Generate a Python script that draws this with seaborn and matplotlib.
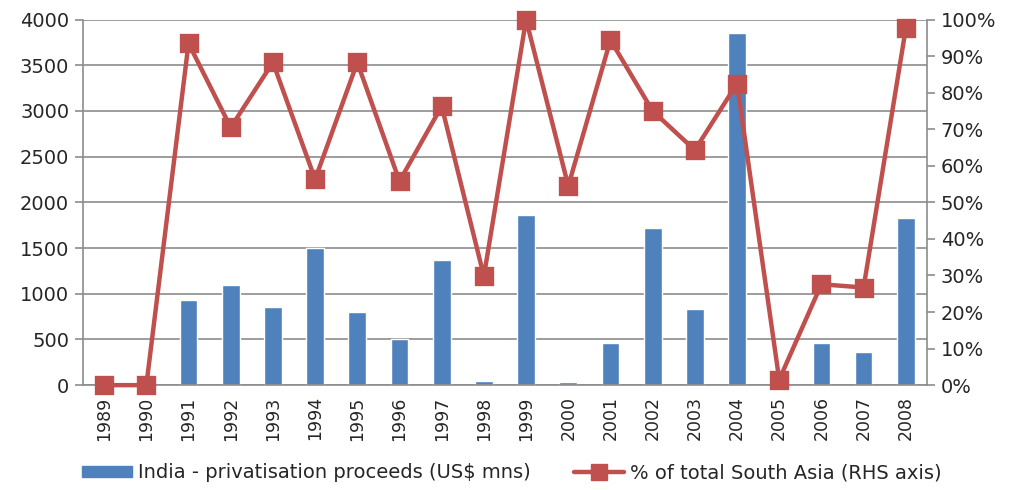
import matplotlib
matplotlib.use("Agg")
import matplotlib.pyplot as plt
import seaborn as sns
import pandas as pd
import numpy as np
from matplotlib.patches import Patch
from matplotlib.lines import Line2D
from matplotlib.ticker import MultipleLocator, FuncFormatter

years = [str(y) for y in range(1989, 2009)]
proceeds = [0, 0, 930, 1095, 857, 1500, 802, 503, 1368, 44, 1860,
            30, 459, 1717, 831, 3851, 0, 459, 361, 1827]
share_pct = [0, 0, 93.5, 70.5, 88.3, 56.3, 88.3, 55.8, 76.3, 29.8, 100,
             54.5, 94.4, 75.0, 64.3, 82.5, 1.5, 27.6, 26.7, 97.6]

bar_label = "India - privatisation proceeds (US$ mns)"
line_label = "% of total South Asia (RHS axis)"
blue = "#4F81BD"
red = "#C0504D"
grey = "#8C8C8C"

df = pd.DataFrame({"year": years, "proceeds": proceeds, "share": share_pct})

sns.set_style("white")
plt.rcParams["font.family"] = ["DejaVu Sans"]

fig = plt.figure(figsize=(10.13, 4.9), dpi=100)
ax = fig.add_axes([0.082, 0.214, 0.833, 0.746])

sns.barplot(data=df, x="year", y="proceeds", color=blue, width=0.42,
            saturation=1, ax=ax, zorder=2)
ax.set_ylim(0, 4000)
ax.yaxis.set_major_locator(MultipleLocator(500))
ax.grid(axis="y", color=grey, linewidth=1.2, zorder=0)
ax.set_axisbelow(True)
ax.set_xlim(-0.5, len(years) - 0.5)
ax.set_xlabel("")
ax.set_ylabel("")

ax2 = ax.twinx()
sns.pointplot(data=df, x="year", y="share", color=red, markers="s",
              markersize=12, linewidth=3.2, errorbar=None, ax=ax2)
ax2.set_ylim(0, 100)
ax2.yaxis.set_major_locator(MultipleLocator(10))
ax2.yaxis.set_major_formatter(FuncFormatter(lambda v, p: f"{v:.0f}%"))
ax2.set_ylabel("")
ax2.set_xlim(-0.5, len(years) - 0.5)
for coll in ax2.collections:
    coll.set_clip_on(False)
for ln in ax2.lines:
    ln.set_clip_on(False)

for a in (ax, ax2):
    for s in a.spines.values():
        s.set_visible(False)
ax.spines["left"].set_visible(True)
ax.spines["bottom"].set_visible(True)
ax2.spines["right"].set_visible(True)
for s in (ax.spines["left"], ax.spines["bottom"], ax2.spines["right"]):
    s.set_color(grey)
    s.set_linewidth(1.2)

# x ticks sit between categories, labels centred on bars
ax.set_xticks(np.arange(len(years)))
ax.set_xticklabels(years, rotation=90, fontsize=12.5)
ax.tick_params(axis="x", which="major", length=0, pad=8)
ax.set_xticks(np.arange(-0.5, len(years)), minor=True)
ax.tick_params(axis="x", which="minor", length=6, color=grey, width=1.2)
ax.tick_params(axis="y", labelsize=14, length=6, color=grey, width=1.2, pad=4)
ax2.tick_params(axis="y", labelsize=14, length=6, color=grey, width=1.2, pad=4)

handles = [Patch(facecolor=blue, edgecolor=blue, label=bar_label),
           Line2D([0], [0], color=red, linewidth=3.2, marker="s",
                  markersize=12, label=line_label)]
fig.legend(handles=handles, loc="center", bbox_to_anchor=(0.505, 0.035),
           ncol=2, frameon=False, handlelength=2.6, handleheight=0.5,
           handletextpad=0.3, columnspacing=2.2,
           prop={"family": ["DejaVu Sans"], "size": 14})

fig.savefig("out.png", dpi=100)
